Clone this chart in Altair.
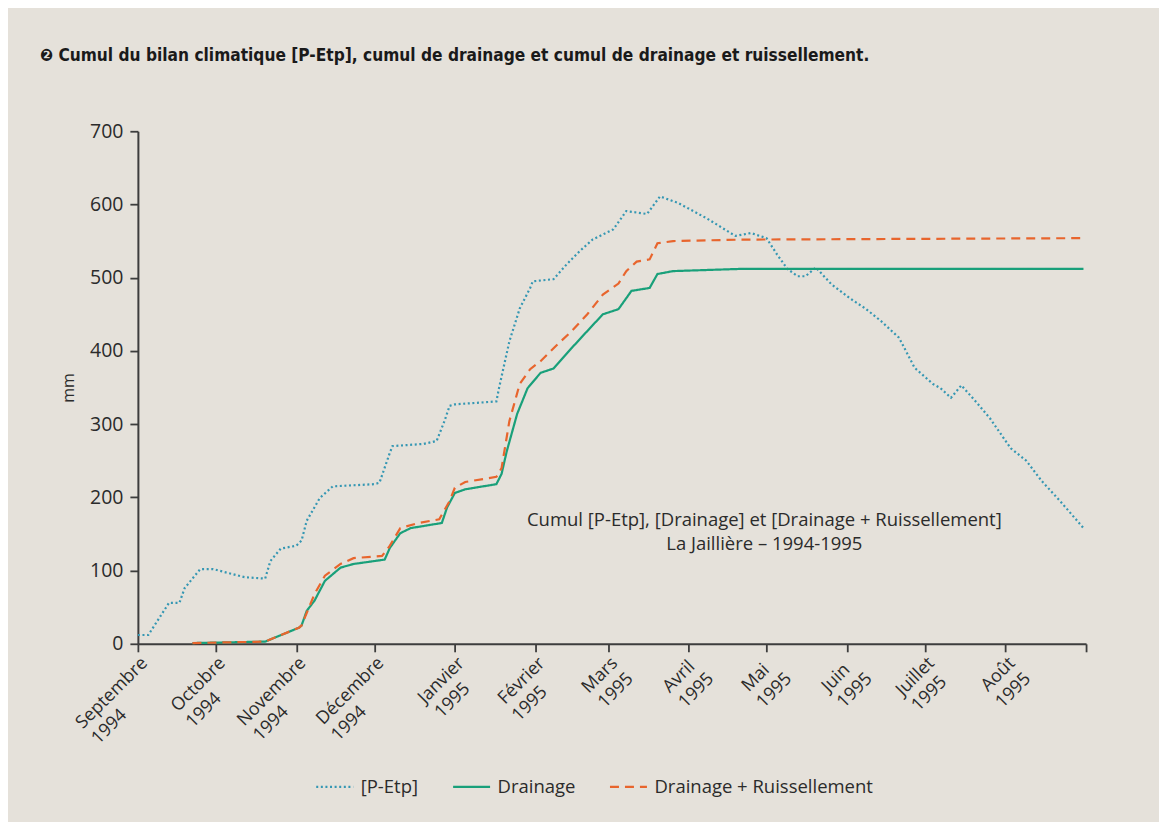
import json
import altair as alt
import pandas as pd

TITRE = "❷ Cumul du bilan climatique [P-Etp], cumul de drainage et cumul de drainage et ruissellement."
ANNOTATION = ["Cumul [P-Etp], [Drainage] et [Drainage + Ruissellement]", "La Jaillière – 1994-1995"]
SERIES = ["[P-Etp]", "Drainage", "Drainage + Ruissellement"]
COULEURS = ["#3597b3", "#19a07a", "#e8652d"]
TIRETS = [[2, 2.6], [1, 0], [9, 6]]
MOIS = ["Janvier", "Février", "Mars", "Avril", "Mai", "Juin", "Juillet",
        "Août", "Septembre", "Octobre", "Novembre", "Décembre"]
# non-breaking spaces appended so that the two lines of each label read as left-aligned
PAD_MOIS = [0, 0, 0, 1, 2, 2, 0, 0, 0, 0, 0, 0]
PAD_AN = [3, 4, 0, 0, 0, 0, 1, 0, 11, 6, 10, 10]
Y_TICKS = [0, 100, 200, 300, 400, 500, 600, 700]

PETP_DATES = ["1994-09-01", "1994-09-05", "1994-09-13", "1994-09-17", "1994-09-19", "1994-09-25", "1994-09-30",
              "1994-10-12", "1994-10-20", "1994-10-22", "1994-10-26",
              "1994-11-01", "1994-11-03", "1994-11-05", "1994-11-10", "1994-11-15",
              "1994-12-01", "1994-12-03", "1994-12-07", "1994-12-08", "1994-12-20", "1994-12-25", "1994-12-28", "1994-12-30",
              "1995-01-01", "1995-01-17", "1995-01-18", "1995-01-22", "1995-01-26", "1995-01-30", "1995-01-31",
              "1995-02-08", "1995-02-13", "1995-02-18", "1995-02-23",
              "1995-03-03", "1995-03-08", "1995-03-16", "1995-03-21", "1995-03-28",
              "1995-04-08", "1995-04-19", "1995-04-25",
              "1995-05-01", "1995-05-05", "1995-05-09", "1995-05-13", "1995-05-16", "1995-05-20", "1995-05-26",
              "1995-06-02", "1995-06-08", "1995-06-14", "1995-06-21", "1995-06-27",
              "1995-07-04", "1995-07-07", "1995-07-11", "1995-07-15", "1995-07-21", "1995-07-26",
              "1995-08-03", "1995-08-09", "1995-08-15", "1995-08-22", "1995-08-31"]
PETP_MM = [12, 12, 56, 56, 76, 102, 102,
           91, 89, 113, 130,
           134, 141, 168, 199, 215,
           218, 220, 261, 270, 273, 277, 304, 325,
           327, 331, 349, 413, 458, 486, 495,
           498, 518, 536, 552,
           566, 591, 587, 611, 602,
           581, 557, 561,
           554, 532, 512, 502, 502, 514, 491,
           472, 458, 441, 418, 377,
           355, 349, 336, 353, 329, 308,
           267, 250, 222, 195, 158]

DRAIN_DATES = ["1994-09-22", "1994-10-20",
               "1994-11-02", "1994-11-03", "1994-11-05", "1994-11-08", "1994-11-12", "1994-11-18", "1994-11-23",
               "1994-12-05", "1994-12-07", "1994-12-11", "1994-12-15", "1994-12-27", "1994-12-29",
               "1995-01-01", "1995-01-05", "1995-01-17", "1995-01-19", "1995-01-21", "1995-01-25", "1995-01-29",
               "1995-02-03", "1995-02-08", "1995-02-15", "1995-02-22", "1995-02-27",
               "1995-03-05", "1995-03-10", "1995-03-17", "1995-03-20", "1995-03-26",
               "1995-04-21", "1995-08-31"]
DRAIN_MM = [1, 3,
            22, 25, 45, 59, 86, 104, 109,
            115, 131, 151, 158, 165, 186,
            206, 211, 218, 232, 263, 314, 349,
            370, 376, 404, 431, 450,
            457, 482, 486, 505, 509,
            512, 512]

DR_DATES = ["1994-09-22", "1994-10-20",
            "1994-11-02", "1994-11-03", "1994-11-08", "1994-11-12", "1994-11-18", "1994-11-23",
            "1994-12-04", "1994-12-07", "1994-12-11", "1994-12-18", "1994-12-26", "1994-12-30",
            "1995-01-01", "1995-01-05", "1995-01-17", "1995-01-19", "1995-01-22", "1995-01-26", "1995-01-30",
            "1995-02-03", "1995-02-09", "1995-02-15", "1995-02-21", "1995-02-27",
            "1995-03-05", "1995-03-08", "1995-03-12", "1995-03-17", "1995-03-20", "1995-03-26",
            "1995-04-21", "1995-08-31"]
DR_MM = [1, 3,
         22, 25, 68, 93, 109, 117,
         120, 134, 158, 165, 170, 195,
         213, 221, 228, 240, 304, 355, 375,
         386, 407, 427, 450, 477,
         492, 509, 522, 525, 547, 550,
         552, 554]

rows = []
for serie, dates, vals in [(SERIES[0], PETP_DATES, PETP_MM),
                           (SERIES[1], DRAIN_DATES, DRAIN_MM),
                           (SERIES[2], DR_DATES, DR_MM)]:
    for d, v in zip(dates, vals):
        rows.append({"serie": serie, "date": d + "T00:00:00", "mm": v})
df = pd.DataFrame(rows)

TICKS = [alt.DateTime(year=1994 + (8 + i) // 12, month=(8 + i) % 12 + 1, date=1) for i in range(13)]
DOMAIN = [alt.DateTime(year=1994, month=9, date=1), alt.DateTime(year=1995, month=9, date=1)]

FONT = "Open Sans"
TXT = "#2b2b2b"
AXC = "#3d3d3d"
NB = "\u00a0"
ZW = "\u200b"  # keeps the trailing no-break spaces from being trimmed

ligne1 = [m + NB * p + (ZW if p else "") for m, p in zip(MOIS, PAD_MOIS)]
suffixe2 = [NB * p + (ZW if p else "") for p in PAD_AN]
label_expr = ("month(datum.value) == 8 && year(datum.value) == 1995 ? '' : ["
              + json.dumps(ligne1, ensure_ascii=False) + "[month(datum.value)], '' + year(datum.value) + "
              + json.dumps(suffixe2, ensure_ascii=False) + "[month(datum.value)]]")

legend = alt.Legend(title=None, orient="none", legendX=177, legendY=636, direction="horizontal",
                    symbolType="stroke", symbolSize=1369, symbolStrokeWidth=2.2,
                    labelFont=FONT, labelFontSize=18.5, labelColor=TXT, labelOffset=6, labelLimit=500,
                    columnPadding=30, padding=0)

lines = alt.Chart(df).mark_line(strokeWidth=2.2).encode(
    x=alt.X("date:T", scale=alt.Scale(domain=DOMAIN),
            axis=alt.Axis(values=TICKS, labelExpr=label_expr, title=None, labelAngle=-45,
                          labelAlign="right", labelBaseline="top", labelPadding=2,
                          labelLineHeight=22, labelFontSize=18, labelOverlap=False,
                          labelFlush=False, labelBound=False)),
    y=alt.Y("mm:Q", scale=alt.Scale(domain=[0, 700], nice=False),
            axis=alt.Axis(values=Y_TICKS, title="mm", titleFont=FONT, titleFontSize=16,
                          titleFontWeight="normal", titleColor=TXT, titlePadding=13,
                          labelFontSize=19.5, labelPadding=7)),
    color=alt.Color("serie:N", scale=alt.Scale(domain=SERIES, range=COULEURS), legend=legend),
    strokeDash=alt.StrokeDash("serie:N", scale=alt.Scale(domain=SERIES, range=TIRETS), legend=legend),
)

note = alt.Chart(pd.DataFrame({"t": [0]})).mark_text(
    text=ANNOTATION, font=FONT, fontSize=18.5, color=TXT, align="center", baseline="top", lineHeight=24
).encode(x=alt.value(627), y=alt.value(380))

chart = alt.layer(lines, note).properties(
    width=949, height=513,
    padding={"left": 130, "top": 123, "right": 73, "bottom": 178},
    autosize=alt.AutoSizeParams(type="none"),
    title=alt.Title(TITRE, anchor="start", frame="group", dx=-98, offset=43, baseline="alphabetic",
                    font="Liberation Sans Narrow, DejaVu Sans Condensed, sans-serif",
                    fontSize=17.2, fontWeight="bold", color="#1a1a1a"),
).configure(background="#e5e1da").configure_view(stroke=None).configure_axis(
    grid=False, domainColor=AXC, domainWidth=2, tickColor=AXC, tickWidth=1.8, tickSize=8,
    labelFont=FONT, labelColor=TXT,
)

chart.save("out.html", embed_options={"renderer": "svg", "actions": False})
